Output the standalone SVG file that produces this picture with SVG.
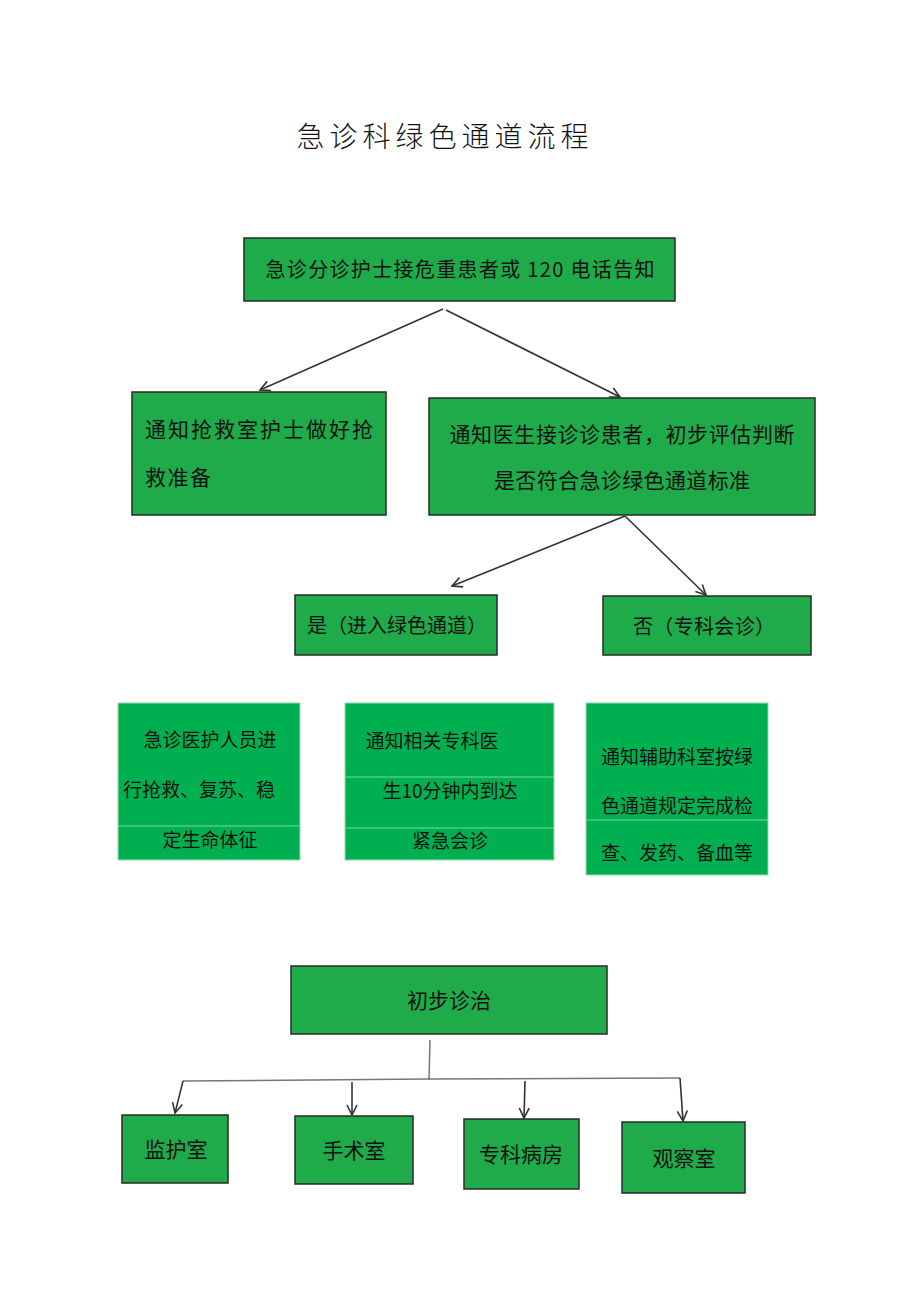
<svg xmlns="http://www.w3.org/2000/svg" width="920" height="1301" viewBox="0 0 920 1301">
<defs>
<style>
.box{fill:#1fab4a;stroke:#2a2a2a;stroke-width:1.5}
.tbl{fill:#00b050;stroke:#9bd9a8;stroke-width:1}
.sep{stroke:#7fd39a;stroke-width:1}
.t{font-family:"Noto Sans CJK SC","Liberation Sans",sans-serif;font-size:20px;fill:#111}
.c{text-anchor:middle}
.ln{stroke:#333;stroke-width:1.6;fill:none}
.gl{stroke:#777;stroke-width:1.5;fill:none}
</style>
<marker id="ah" viewBox="0 0 12 12" refX="11" refY="6" markerWidth="12" markerHeight="12" markerUnits="userSpaceOnUse" orient="auto">
<path d="M1,1 L11,6 L1,11" fill="none" stroke="#333" stroke-width="1.6"/>
</marker>
</defs>
<rect width="920" height="1301" fill="#fff"/>
<text x="445" y="147" class="t c" style="font-size:28px;letter-spacing:5px;font-weight:300">急诊科绿色通道流程</text>

<g id="n1"><rect class="box" x="244" y="238" width="431" height="63"/><text x="460" y="277" class="t c" textLength="389" lengthAdjust="spacing">急诊分诊护士接危重患者或 120 电话告知</text></g>
<g id="n2"><rect class="box" x="132" y="392" width="254" height="123"/><text x="145" y="437" class="t" style="font-size:21px" textLength="228" lengthAdjust="spacing">通知抢救室护士做好抢</text><text x="145" y="485" class="t" style="font-size:21px" textLength="66" lengthAdjust="spacing">救准备</text></g>
<g id="n3"><rect class="box" x="429" y="398" width="386" height="117"/><text x="622" y="442" class="t c" style="font-size:21px" textLength="345" lengthAdjust="spacing">通知医生接诊诊患者，初步评估判断</text><text x="622" y="488" class="t c" style="font-size:21px" textLength="256" lengthAdjust="spacing">是否符合急诊绿色通道标准</text></g>
<g id="n4"><rect class="box" x="295" y="595" width="202" height="60"/><text x="397" y="633" class="t c" textLength="180" lengthAdjust="spacing">是（进入绿色通道）</text></g>
<g id="n5"><rect class="box" x="603" y="596" width="208" height="59"/><text x="704" y="634" class="t c" textLength="142" lengthAdjust="spacing">否（专科会诊）</text></g>

<g id="n6"><rect class="tbl" x="118" y="703" width="182" height="157"/><line class="sep" x1="118" y1="826" x2="300" y2="826"/><text x="210" y="747" class="t c" style="font-size:19px">急诊医护人员进</text><text x="199" y="797" class="t c" style="font-size:19px">行抢救、复苏、稳</text><text x="210" y="847" class="t c" style="font-size:19px">定生命体征</text></g>
<g id="n7"><rect class="tbl" x="345" y="703" width="209" height="157"/><line class="sep" x1="345" y1="777" x2="554" y2="777"/><line class="sep" x1="345" y1="828" x2="554" y2="828"/><text x="432" y="748" class="t c" style="font-size:19px">通知相关专科医</text><text x="450" y="798" class="t c" style="font-size:19px">生10分钟内到达</text><text x="450" y="848" class="t c" style="font-size:19px">紧急会诊</text></g>
<g id="n8"><rect class="tbl" x="586" y="703" width="182" height="172"/><line class="sep" x1="586" y1="820" x2="768" y2="820"/><text x="677" y="764" class="t c" style="font-size:19px">通知辅助科室按绿</text><text x="677" y="813" class="t c" style="font-size:19px">色通道规定完成检</text><text x="677" y="860" class="t c" style="font-size:19px">查、发药、备血等</text></g>

<g id="n9"><rect class="box" x="291" y="966" width="316" height="68"/><text x="449" y="1008" class="t c" style="font-size:21px">初步诊治</text></g>
<g id="n10"><rect class="box" x="122" y="1115" width="106" height="68"/><text x="176" y="1157" class="t c" style="font-size:21px">监护室</text></g>
<g id="n11"><rect class="box" x="295" y="1116" width="118" height="68"/><text x="354" y="1158" class="t c" style="font-size:21px">手术室</text></g>
<g id="n12"><rect class="box" x="464" y="1119" width="115" height="70"/><text x="521" y="1162" class="t c" style="font-size:21px">专科病房</text></g>
<g id="n13"><rect class="box" x="622" y="1122" width="123" height="71"/><text x="684" y="1166" class="t c" style="font-size:21px">观察室</text></g>

<g id="connectors">
<line class="ln" x1="443" y1="309" x2="260" y2="390" marker-end="url(#ah)"/>
<line class="ln" x1="446" y1="310" x2="620" y2="397" marker-end="url(#ah)"/>
<line class="ln" x1="625" y1="516" x2="452" y2="586" marker-end="url(#ah)"/>
<line class="ln" x1="625" y1="516" x2="706" y2="595" marker-end="url(#ah)"/>
<line class="gl" x1="430" y1="1040" x2="429" y2="1080"/>
<polyline class="gl" points="183,1081 430,1079 680,1078"/>
<line class="ln" x1="183" y1="1081" x2="175" y2="1113" marker-end="url(#ah)"/>
<line class="ln" x1="352" y1="1082" x2="352" y2="1115" marker-end="url(#ah)"/>
<line class="ln" x1="525" y1="1081" x2="524" y2="1118" marker-end="url(#ah)"/>
<line class="ln" x1="680" y1="1078" x2="683" y2="1121" marker-end="url(#ah)"/>
</g>
</svg>
